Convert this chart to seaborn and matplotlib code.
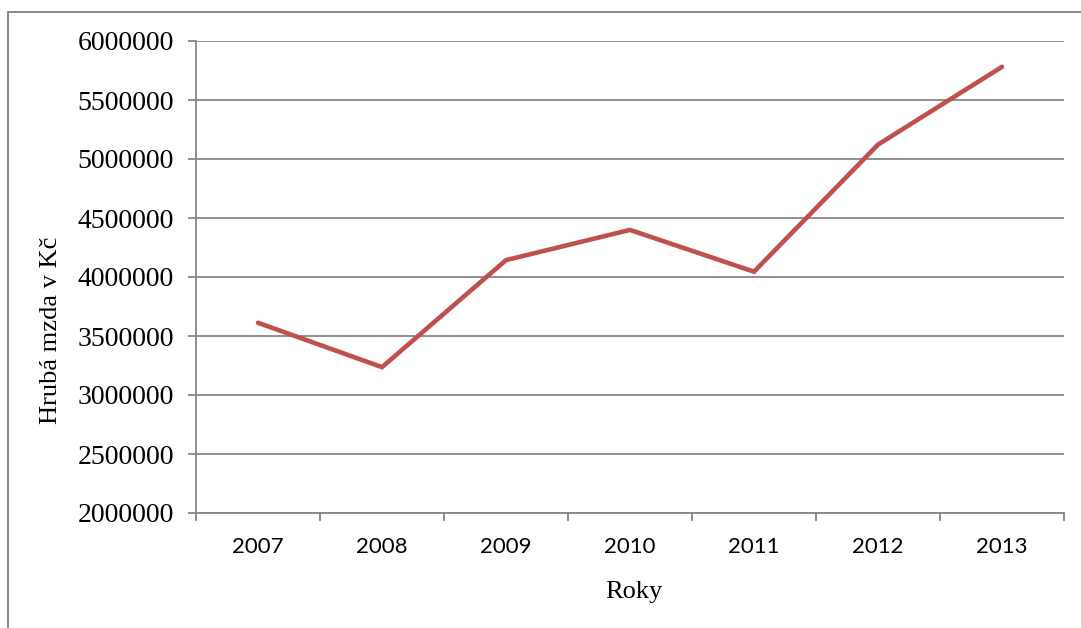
import matplotlib
matplotlib.use("Agg")
import matplotlib.pyplot as plt
from matplotlib.lines import Line2D
from matplotlib.ticker import FixedLocator, NullFormatter
import seaborn as sns
import pandas as pd

# Gross wages by year
years = ["2007", "2008", "2009", "2010", "2011", "2012", "2013"]
wages = [3612000, 3236000, 4143000, 4399000, 4045000, 5122000, 5781000]
y_ticks = [2000000, 2500000, 3000000, 3500000, 4000000, 4500000, 5000000, 5500000, 6000000]

x_title = "Roky"
y_title = "Hrubá mzda v Kč"

df = pd.DataFrame({"rok": years, "mzda": wages})

sns.set_theme(style="white")
plt.rcParams["font.family"] = ["Liberation Serif", "DejaVu Serif"]

grey = "#878787"
line_color = "#C0504D"

fig = plt.figure(figsize=(10.81, 6.28), dpi=100)
ax = fig.add_axes([196 / 1081, 1 - 513 / 628, 868 / 1081, 472 / 628])

sns.lineplot(data=df, x="rok", y="mzda", ax=ax, color=line_color,
             linewidth=3.3, solid_capstyle="round", solid_joinstyle="miter",
             sort=False, zorder=3)

ax.set_xlim(-0.5, len(years) - 0.5)
ax.set_ylim(y_ticks[0], y_ticks[-1])

# y axis: horizontal gridlines and outward ticks
ax.set_yticks(y_ticks)
ax.set_yticklabels([str(v) for v in y_ticks], fontsize=20,
                   family=["Liberation Serif", "DejaVu Serif"], color="black")
ax.tick_params(axis="y", which="major", direction="out", length=6,
               width=1.3, color=grey, pad=10, left=True)
ax.yaxis.grid(True, color=grey, linewidth=1.3)
ax.xaxis.grid(False)

# x axis: category labels centred, tick marks between categories
ax.set_xticks(range(len(years)))
ax.set_xticklabels(years, fontsize=16, family=["Lato", "DejaVu Sans"], color="black")
ax.tick_params(axis="x", which="major", length=0, pad=17)
ax.xaxis.set_minor_locator(FixedLocator([i - 0.5 for i in range(len(years) + 1)]))
ax.xaxis.set_minor_formatter(NullFormatter())
ax.tick_params(axis="x", which="minor", direction="out", length=6,
               width=1.3, color=grey, bottom=True)

for side in ("top", "right"):
    ax.spines[side].set_visible(False)
for side in ("left", "bottom"):
    ax.spines[side].set_color(grey)
    ax.spines[side].set_linewidth(1.3)

ax.set_xlabel(x_title, fontsize=19, color="black")
ax.set_ylabel(y_title, fontsize=19, color="black")
ax.xaxis.label.set_va("center")
ax.yaxis.label.set_va("center")
ax.xaxis.set_label_coords((634 - 196) / 868, (513 - 592) / 472)
ax.yaxis.set_label_coords((51 - 196) / 868, (513 - 330) / 472)

# chart frame (top and left edges)
fig.add_artist(Line2D([8 / 1081, 1.0], [1 - 12 / 628, 1 - 12 / 628],
                      transform=fig.transFigure, color=grey, linewidth=1.4))
fig.add_artist(Line2D([8 / 1081, 8 / 1081], [0.0, 1 - 12 / 628],
                      transform=fig.transFigure, color=grey, linewidth=1.4))

fig.savefig("out.png", dpi=100, facecolor="white")
